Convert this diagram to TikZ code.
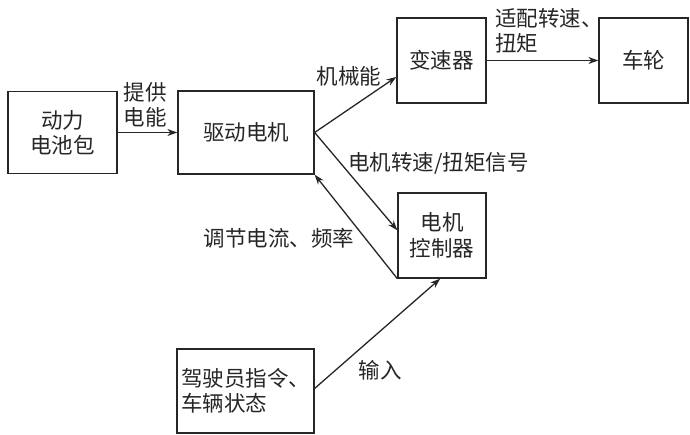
\documentclass[tikz,border=0pt]{standalone}
\usepackage{fontspec}
\setmainfont{Noto Sans CJK SC}
\usetikzlibrary{arrows.meta,calc}
\begin{document}
\begin{tikzpicture}[x=1pt,y=-1pt,
  every node/.style={font=\fontsize{21.5}{25.5}\selectfont, text=black!85},
  blk/.style={draw=black!85, line width=1.3pt, inner sep=0pt, align=center},
  conn/.style={draw=black!85, line width=1.3pt, -{Stealth[length=10pt,width=7pt]}},
  lbl/.style={inner sep=0pt, align=center}]
\useasboundingbox (0,0) rectangle (690,435);
\node[blk, minimum width=109, minimum height=82] (bat) at (62.5,132.5) {动力\\电池包};
\node[blk, minimum width=136, minimum height=83] (mot) at (246,132.5) {驱动电机};
\node[blk, minimum width=89, minimum height=85] (gear) at (441.5,60.5) {变速器};
\node[blk, minimum width=89, minimum height=85] (wheel) at (643.5,60.5) {车轮};
\node[blk, minimum width=88, minimum height=85] (ctrl) at (442,235.5) {电机\\控制器};
\node[blk, minimum width=137, minimum height=84, align=left] (drv) at (245.5,391) {驾驶员指令、\\车辆状态};

\draw[conn] (bat.east) -- (mot.west);
\draw[conn] (mot.east) -- ($(gear.north west)!0.69!(gear.south west)$);
\draw[conn] (gear.east) -- (wheel.west);
\draw[conn] (mot.east) -- ($(ctrl.north west)!0.44!(ctrl.south west)$);
\draw[conn] (ctrl.south west) -- (mot.south east);
\draw[conn] ($(drv.north east)!0.47!(drv.south east)$) -- ($(ctrl.south west)!0.48!(ctrl.south east)$);

\node[lbl] (l1) at (145,105) {提供\\电能};
\node[lbl] (l2) at (349,76) {机械能};
\node[lbl, anchor=north west, align=left] (l3) at (495,8) {适配转速、\\扭矩};
\node[lbl, anchor=west] (l4) at (348,163) {电机转速/扭矩信号};
\node[lbl] (l5) at (279,238) {调节电流、频率};
\node[lbl] (l6) at (380,370) {输入};
\end{tikzpicture}
\end{document}
